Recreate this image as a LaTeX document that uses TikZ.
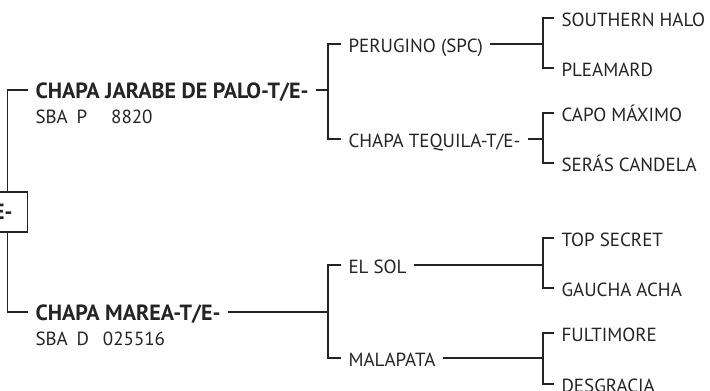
\documentclass[tikz,border=0pt]{standalone}
\usepackage{fontspec}
\setmainfont{PT Sans}
\usetikzlibrary{positioning}
\definecolor{inkgray}{HTML}{262324}

\begin{document}
\begin{tikzpicture}[x=1pt, y=-1pt, line width=1.1pt, color=inkgray,
    horse/.style={anchor=west, inner xsep=7pt, inner ysep=0pt, text height=17pt, text depth=0pt, font=\fontsize{19}{24}\selectfont},
    champ/.style={horse, font=\fontsize{22}{24}\selectfont\bfseries},
    regno/.style={horse, inner xsep=0pt},
    rootbox/.style={draw, font=\fontsize{22}{24}\selectfont\bfseries, text width=40pt, align=right, inner xsep=15pt, minimum height=40pt, text height=15pt, text depth=0pt}]
    \useasboundingbox (0,0) rectangle (710,391);
    \clip (0,0) rectangle (710,391);

    % Root
    \node[rootbox, anchor=east] (root) at (28,212) {E-};

    % Parents
    \node[champ] (sire) at (28,90) {CHAPA JARABE DE PALO-T/E-};
    \node[regno, below right=7pt and 7pt of sire.south west] (sireReg) {\makebox[41pt][l]{SBA}P\hspace{24pt}8820};
    \node[champ] (dam) at (28,312) {CHAPA MAREA-T/E-};
    \node[regno, below right=7pt and 7pt of dam.south west] (damReg) {\makebox[41pt][l]{SBA}D\hspace{14pt}025516};

    % Grandparents
    \node[horse] (perugino) at (341,44) {PERUGINO (SPC)};
    \node[horse] (tequila) at (341,139) {CHAPA TEQUILA-T/E-};
    \node[horse] (elsol) at (341,265) {EL SOL};
    \node[horse] (malapata) at (341,358) {MALAPATA};

    % Great-grandparents
    \node[horse] (southern) at (554,18) {SOUTHERN HALO};
    \node[horse] (pleamard) at (554,68) {PLEAMARD};
    \node[horse] (capo) at (554,113) {CAPO MÁXIMO};
    \node[horse] (seras) at (554,163) {SERÁS CANDELA};
    \node[horse] (topsecret) at (554,238) {TOP SECRET};
    \node[horse] (gaucha) at (554,288) {GAUCHA ACHA};
    \node[horse] (fultimore) at (554,333) {FULTIMORE};
    \node[horse] (desgracia) at (554,384) {DESGRACIA};

    % Joints of the brackets
    \coordinate (rootx) at (7.5,212);
    \coordinate (jSire) at (328,90);
    \coordinate (jDam) at (328,312);
    \coordinate (jPerugino) at (543,44);
    \coordinate (jTequila) at (543,139);
    \coordinate (jElsol) at (543,265);
    \coordinate (jMalapata) at (543,358);

    % Lines
    \draw (sire.west) -| (rootx |- root.north);
    \draw (dam.west) -| (rootx |- root.south);
    \draw (sire.east) -- (jSire);
    \draw (perugino.west) -| (jSire) |- (tequila.west);
    \draw (dam.east) -- (jDam);
    \draw (elsol.west) -| (jDam) |- (malapata.west);
    \draw (perugino.east) -- (jPerugino);
    \draw (southern.west) -| (jPerugino) |- (pleamard.west);
    \draw (tequila.east) -- (jTequila);
    \draw (capo.west) -| (jTequila) |- (seras.west);
    \draw (elsol.east) -- (jElsol);
    \draw (topsecret.west) -| (jElsol) |- (gaucha.west);
    \draw (malapata.east) -- (jMalapata);
    \draw (fultimore.west) -| (jMalapata) |- (desgracia.west);
\end{tikzpicture}
\end{document}
